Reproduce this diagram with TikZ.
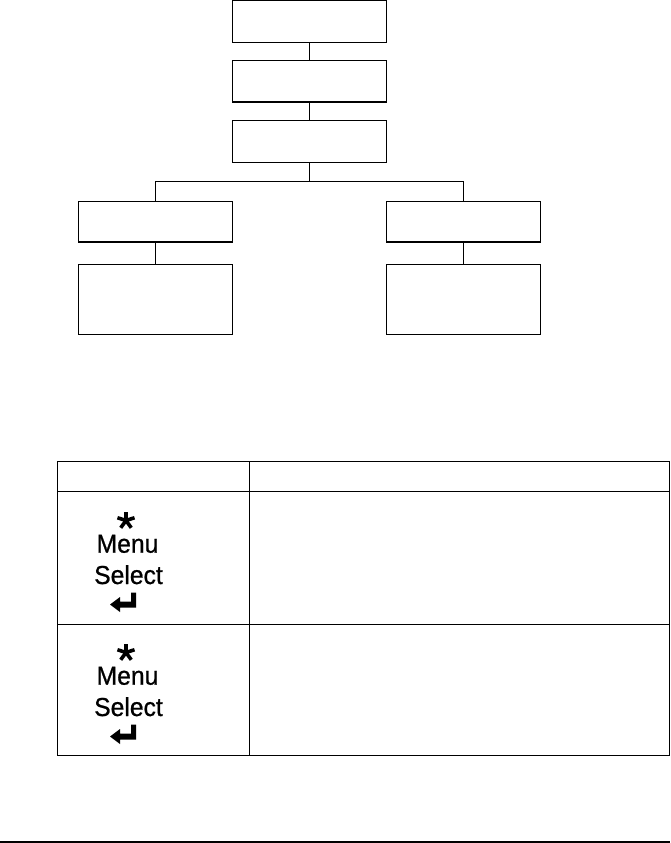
\documentclass[tikz,border=0pt]{standalone}
\usepackage{fontspec}
\newfontfamily\narrowfont[FakeStretch=0.95,FakeBold=0.8]{Liberation Sans}
\begin{document}
\begin{tikzpicture}[x=1pt,y=-1pt,
  box/.style={draw,line width=1.2pt,minimum width=154pt,inner sep=0pt},
  conn/.style={line width=1.2pt},
  grid/.style={line width=1.2pt},
  lbl/.style={font=\narrowfont\fontsize{26}{26}\selectfont,inner sep=0pt,anchor=base},
  starpic/.pic={\foreach \a in {-90,-18,-162,54,126}{\draw[line width=3.6pt] (0,0) -- (\a:9);}},
  retarr/.pic={\fill (-17,0) -- (-7,-7.5) -- (-7,-3) -- (4,-3) -- (4,-12) -- (9,-12) -- (9,3) -- (-7,3) -- (-7,7.5) -- cycle;}
]
\path[use as bounding box] (0,0) rectangle (670,843);
% tree
\node[box,minimum height=41.5pt] (b1) at (309.3,21.6) {};
\node[box,minimum height=41.7pt] (b2) at (309.3,81.2) {};
\node[box,minimum height=42pt] (b3) at (309.3,141.3) {};
\node[box,minimum height=40.7pt] (l1) at (155.3,221.7) {};
\node[box,minimum height=70pt] (l2) at (155.3,299.3) {};
\node[box,minimum height=40.7pt,minimum width=154.4pt] (r1) at (463.5,221.7) {};
\node[box,minimum height=70pt,minimum width=154.4pt] (r2) at (463.5,299.3) {};
\coordinate (j) at (309.3,181.3);
\draw[conn] (b1.south) -- (b2.north);
\draw[conn] (b2.south) -- (b3.north);
\draw[conn] (b3.south) -- (j);
\draw[conn] (l1.north) |- (j) -| (r1.north);
\draw[conn] (l1.south) -- (l2.north);
\draw[conn] (r1.south) -- (r2.north);
% table
\coordinate (tl) at (57.3,461.7);
\coordinate (br) at (669.3,755.7);
\draw[grid] (tl) rectangle (br);
\draw[grid] (249.3,461.7) -- (249.3,755.7);
\draw[grid] (57.3,491.7) -- (669.3,491.7);
\draw[grid] (57.3,624.3) -- (669.3,624.3);
% icons row 1
\pic at (126,520.5) {starpic};
\node[lbl] (m1) at (127.5,552.7) {Menu};
\node[lbl] (s1) at (128.5,584) {Select};
\pic at (127,604.5) {retarr};
% icons row 2
\pic at (126,652.5) {starpic};
\node[lbl] (m2) at (127.5,684.7) {Menu};
\node[lbl] (s2) at (128.5,716) {Select};
\pic at (127,736.5) {retarr};
% bottom rule
\coordinate (rl) at (0,842.2);
\coordinate (rr) at (670,842.2);
\draw[line width=1.5pt] (rl) -- (rr);
\end{tikzpicture}
\end{document}
